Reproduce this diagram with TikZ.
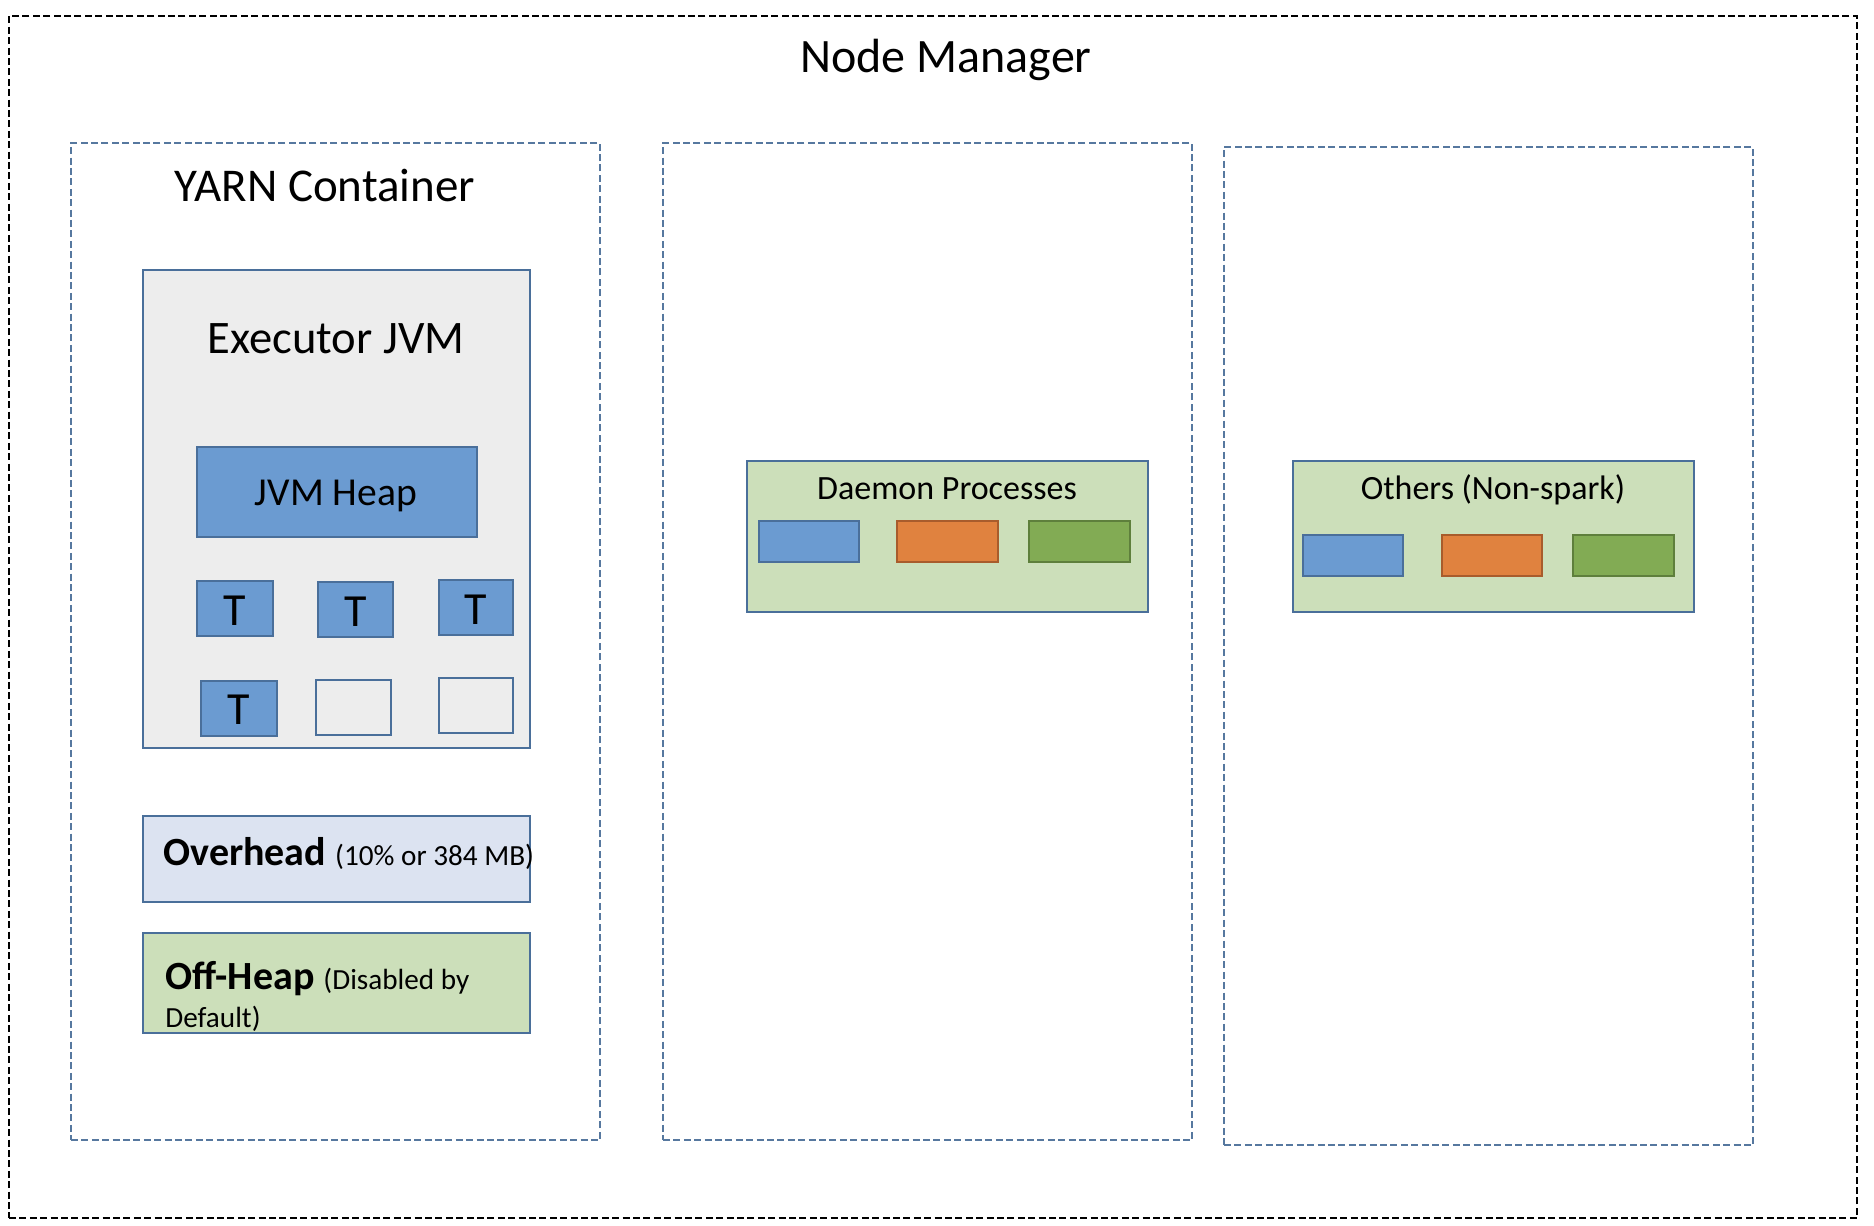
\documentclass[tikz,border=0pt]{standalone}
\usepackage{fontspec}
\setmainfont{Carlito}
\usetikzlibrary{fit}
\definecolor{regblue}{HTML}{56789F}
\definecolor{edgeblue}{HTML}{4A6F9A}
\definecolor{execgray}{HTML}{EDEDED}
\definecolor{heapblue}{HTML}{6B9BD1}
\definecolor{ovblue}{HTML}{DCE3F1}
\definecolor{offgreen}{HTML}{CCDFBA}
\definecolor{orfill}{HTML}{E0823F}
\definecolor{oredge}{HTML}{A85C2C}
\definecolor{grfill}{HTML}{82AB54}
\definecolor{gredge}{HTML}{5E7F3C}
\begin{document}
\begin{tikzpicture}[x=0.5pt,y=-0.5pt,
  outerbox/.style={draw=black, line width=1.45pt, dash pattern=on 3.5pt off 1.7pt, inner sep=0pt},
  regionbox/.style={draw=regblue, line width=1.15pt, dash pattern=on 3.5pt off 1.7pt, inner sep=0pt},
  solidbox/.style={draw=edgeblue, line width=1.1pt, inner sep=0pt},
  tbox/.style={solidbox, fill=heapblue},
  tlbl/.style={inner sep=0pt, anchor=base, font=\fontsize{23}{27}\selectfont},
  ebox/.style={solidbox, fill=execgray},
  bluebar/.style={solidbox, fill=heapblue},
  orbar/.style={draw=oredge, line width=1.1pt, inner sep=0pt, fill=orfill},
  grbar/.style={draw=gredge, line width=1.1pt, inner sep=0pt, fill=grfill},
  lbl/.style={inner sep=0pt, anchor=base}]
\useasboundingbox (0,0) rectangle (1874,1226);
\fill[white] (0,0) rectangle (1874,1226);
% outer
\node[outerbox, fit={(9,16)(1857,1218)}] (nm) {};
\node[lbl, font=\fontsize{24}{29}\selectfont] (nmt) at (946,72) {Node Manager};
% regions
\node[regionbox, fit={(71,143)(600,1140)}] (yarn) {};
\node[regionbox, fit={(663,143)(1192,1140)}] (mid) {};
\node[regionbox, fit={(1224,147)(1753,1145)}] (right) {};
\node[lbl, font=\fontsize{23.5}{28}\selectfont] (yarnt) at (325,201) {YARN Container};
% executor
\node[ebox, fit={(143,270)(530,748)}] (exec) {};
\node[lbl, font=\fontsize{23.3}{28}\selectfont] (exect) at (336,353) {Executor JVM};
\node[bluebar, fit={(197,447)(477,537)}] (heap) {};
\node[lbl, font=\fontsize{19.8}{24}\selectfont] (heapt) at (336,505) {JVM Heap};
\node[tbox, fit={(197,581)(273,636)}] (t1) {};
\node[tbox, fit={(318,582)(393,637)}] (t2) {};
\node[tbox, fit={(439,580)(513,635)}] (t3) {};
\node[tbox, fit={(201,681)(277,736)}] (t4) {};
\node[ebox, fit={(316,680)(391,735)}] (t5) {};
\node[ebox, fit={(439,678)(513,733)}] (t6) {};
\node[tlbl] (t1l) at (235,625) {T};
\node[tlbl] (t2l) at (355.5,626) {T};
\node[tlbl] (t3l) at (476,624) {T};
\node[tlbl] (t4l) at (239,724) {T};
% overhead
\node[solidbox, fill=ovblue, fit={(143,816)(530,902)}] (ovh) {};
\node[lbl, anchor=base west] (ovht) at (163,865) {{\fontsize{20}{24}\selectfont\bfseries Overhead\ }{\fontsize{14.6}{18}\selectfont(10\% or 384 MB)}};
% off-heap
\node[solidbox, fill=offgreen, fit={(143,933)(530,1033)}] (off) {};
\node[lbl, anchor=base west] (offt) at (165,989) {{\fontsize{20}{24}\selectfont\bfseries Off-Heap\ }{\fontsize{14.6}{18}\selectfont(Disabled by}};
\node[lbl, anchor=base west, font=\fontsize{14.6}{18}\selectfont] (offt2) at (165,1027) {Default)};
% daemon
\node[solidbox, fill=offgreen, fit={(747,461)(1148,612)}] (dp) {};
\node[lbl, font=\fontsize{17}{20}\selectfont] (dpt) at (947,499) {Daemon Processes};
\node[bluebar, fit={(759,521)(859,562)}] (dp1) {};
\node[orbar, fit={(897,521)(998,562)}] (dp2) {};
\node[grbar, fit={(1029,521)(1130,562)}] (dp3) {};
% others
\node[solidbox, fill=offgreen, fit={(1293,461)(1694,612)}] (ot) {};
\node[lbl, font=\fontsize{17}{20}\selectfont] (ott) at (1493,499) {Others (Non-spark)};
\node[bluebar, fit={(1303,535)(1403,576)}] (ot1) {};
\node[orbar, fit={(1442,535)(1542,576)}] (ot2) {};
\node[grbar, fit={(1573,535)(1674,576)}] (ot3) {};
\end{tikzpicture}
\end{document}
